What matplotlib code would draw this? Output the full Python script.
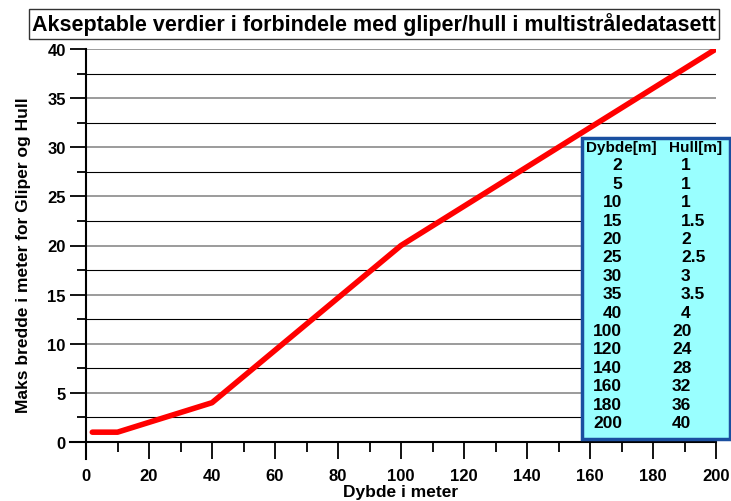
import matplotlib.pyplot as plt
from matplotlib.ticker import MultipleLocator
from matplotlib.lines import Line2D

plt.rcParams['font.family'] = ['Liberation Sans', 'DejaVu Sans']
plt.rcParams['font.weight'] = 'bold'

dybde = [2, 5, 10, 15, 20, 25, 30, 35, 40, 100, 120, 140, 160, 180, 200]
hull = [1, 1, 1, 1.5, 2, 2.5, 3, 3.5, 4, 20, 24, 28, 32, 36, 40]
hull_txt = ['1', '1', '1', '1.5', '2', '2.5', '3', '3.5', '4',
            '20', '24', '28', '32', '36', '40']

W, H = 731, 502
fig = plt.figure(figsize=(W / 100, H / 100), dpi=100)
# axes: x 86..716 px, y data 0 at 443px, 40 at 50px, bottom extends to 460px
ymin = -40 / 393 * 17
ax = fig.add_axes([86 / W, 1 - 460 / H, (716 - 86) / W, (460 - 50) / H])
ax.set_xlim(0, 200)
ax.set_ylim(ymin, 40)

ax.plot(dybde, hull, color='red', lw=4, solid_capstyle='round', zorder=3)

ax.yaxis.set_major_locator(MultipleLocator(5))
ax.yaxis.set_minor_locator(MultipleLocator(2.5))
ax.xaxis.set_major_locator(MultipleLocator(20))
ax.xaxis.set_minor_locator(MultipleLocator(10))
ax.set_yticks([0, 5, 10, 15, 20, 25, 30, 35, 40])

ax.grid(True, which='major', axis='y', color='#8a8a8a', lw=1.2)
ax.grid(True, which='minor', axis='y', color='black', lw=0.8)

for s in ['top', 'right']:
    ax.spines[s].set_visible(False)
ax.spines['bottom'].set_position(('data', 0))
ax.spines['left'].set_linewidth(1.5)
ax.spines['bottom'].set_linewidth(1.5)
ax.add_line(Line2D([-16 / 630 * 200, 0], [0, 0], color='black', lw=1.5,
                   clip_on=False))

ax.tick_params(axis='y', which='major', direction='out', length=11.5,
               width=1.3, labelsize=12, pad=3)
ax.tick_params(axis='y', which='minor', direction='out', length=6.5, width=1.3)
ax.tick_params(axis='x', which='major', direction='out', length=12,
               width=1.3, labelsize=12, pad=7)
ax.tick_params(axis='x', which='minor', direction='out', length=7, width=1.3)

ax.set_xlabel('Dybde i meter', fontsize=12.5, fontweight='bold', labelpad=0.5)
ax.set_ylabel('Maks bredde i meter for Gliper og Hull', fontsize=12.5,
              fontweight='bold', labelpad=12)

fig.text(374 / W, 1 - 25 / H,
         'Akseptable verdier i forbindele med gliper/hull i multistråledatasett',
         ha='center', va='center', fontsize=15.5, fontweight='bold',
         bbox=dict(boxstyle='square,pad=0.15', fc='white', ec='#333333', lw=1))

# table box
box = plt.Rectangle((582 / W, 1 - 440 / H), (731 - 583) / W, (440 - 139) / H,
                    transform=fig.transFigure, fc='#99FFFF', ec='#1a4fa0',
                    lw=2.5, zorder=5)
fig.patches.append(box)
fig.text(621 / W, 1 - 148 / H, 'Dybde[m]', ha='center', va='center',
         fontsize=11, fontweight='bold', zorder=6)
fig.text(696 / W, 1 - 148 / H, 'Hull[m]', ha='center', va='center',
         fontsize=11, fontweight='bold', zorder=6)
for i, (d, h) in enumerate(zip(dybde, hull_txt)):
    yy = 1 - (166 + i * 18.4) / H
    fig.text(622 / W, yy, str(d), ha='right', va='center', fontsize=12.5,
             fontweight='bold', zorder=6)
    hx = 681 if len(h.split('.')[0]) == 1 else 672
    fig.text(hx / W, yy, h, ha='left', va='center', fontsize=12.5,
             fontweight='bold', zorder=6)

fig.savefig('out.png', dpi=100)
